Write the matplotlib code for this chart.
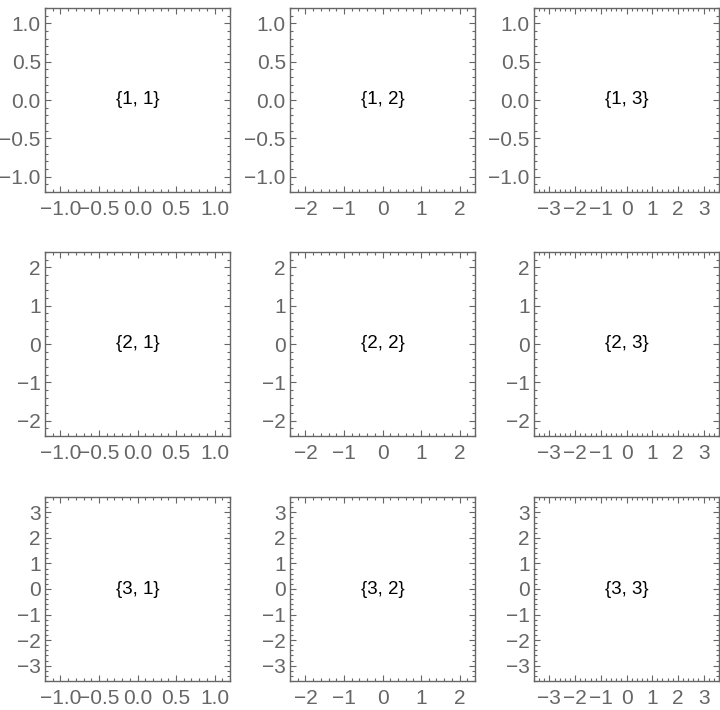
import matplotlib.pyplot as plt
from matplotlib.ticker import MultipleLocator, FuncFormatter

plt.rcParams['font.family'] = ['Liberation Sans', 'DejaVu Sans']

# plot range half-widths per row (y) and per column (x)
row_ranges = [1.2, 2.4, 3.6]
col_ranges = [1.2, 2.4, 3.6]
# major tick step and minor tick step for each range
major_steps = [0.5, 1.0, 1.0]
minor_steps = [0.1, 0.2, 0.2]
labels = [["{1, 1}", "{1, 2}", "{1, 3}"],
          ["{2, 1}", "{2, 2}", "{2, 3}"],
          ["{3, 1}", "{3, 2}", "{3, 3}"]]

W, H = 720, 710
lefts = [45, 290, 534]
tops = [8, 252, 497]
size_w, size_h = 185, 184

fig = plt.figure(figsize=(W / 100, H / 100), dpi=100)
gray = '#666666'


def make_fmt(step):
	def fmt(v, pos):
		if step < 1:
			s = '%.1f' % v
		else:
			s = '%d' % round(v)
		if s in ('-0.0', '-0'):
			s = s[1:]
		return s.replace('-', '\u2212')
	return FuncFormatter(fmt)


for i in range(3):
	for j in range(3):
		ax = fig.add_axes([lefts[j] / W, 1 - (tops[i] + size_h) / H, size_w / W, size_h / H])
		ax.set_xlim(-col_ranges[j], col_ranges[j])
		ax.set_ylim(-row_ranges[i], row_ranges[i])
		ax.xaxis.set_major_locator(MultipleLocator(major_steps[j]))
		ax.xaxis.set_minor_locator(MultipleLocator(minor_steps[j]))
		ax.yaxis.set_major_locator(MultipleLocator(major_steps[i]))
		ax.yaxis.set_minor_locator(MultipleLocator(minor_steps[i]))
		ax.xaxis.set_major_formatter(make_fmt(major_steps[j]))
		ax.yaxis.set_major_formatter(make_fmt(major_steps[i]))
		for s in ax.spines.values():
			s.set_color(gray)
			s.set_linewidth(1.0)
		ax.tick_params(which='both', direction='in', top=True, right=True,
			colors=gray, labelcolor=gray, labelsize=15, width=0.8)
		ax.tick_params(which='major', length=4)
		ax.tick_params(axis='x', which='major', pad=6)
		ax.tick_params(axis='y', which='major', pad=3)
		ax.tick_params(which='minor', length=2)
		ax.text(0, 0, labels[i][j], ha='center', va='center', fontsize=13.5, color='black')

fig.savefig('out.png', dpi=100)
